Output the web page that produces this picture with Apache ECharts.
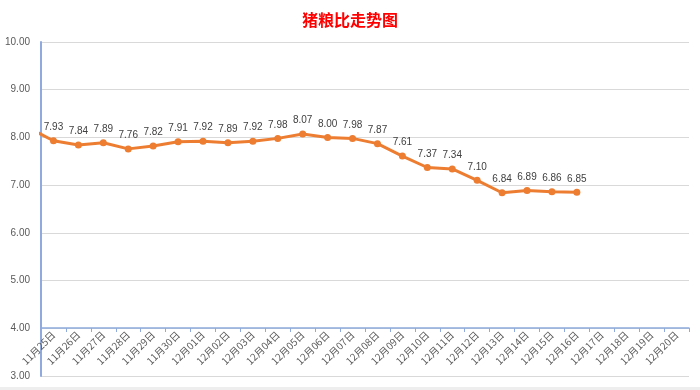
<!DOCTYPE html>
<html>
<head>
<meta charset="utf-8">
<script src="https://cdn.jsdelivr.net/npm/echarts@6/dist/echarts.min.js"></script>
<style>html,body{margin:0;padding:0;background:#fff}#c{width:700px;height:390px}</style>
</head>
<body>
<div id="c"></div>
<script>
const categories = ['11月25日','11月26日','11月27日','11月28日','11月29日','11月30日','12月01日','12月02日','12月03日','12月04日','12月05日','12月06日','12月07日','12月08日','12月09日','12月10日','12月11日','12月12日','12月13日','12月14日','12月15日','12月16日','12月17日','12月18日','12月19日','12月20日'];
const ratioValues = [7.93,7.84,7.89,7.76,7.82,7.91,7.92,7.89,7.92,7.98,8.07,8.00,7.98,7.87,7.61,7.37,7.34,7.10,6.84,6.89,6.86,6.85];
const priorValue = 8.20; // 11月24日 (clipped, off the axis)
const yTicks = [3,4,5,6,7,8,9,10];

const seriesData = [{value:[-0.5, priorValue], label:{show:false}, symbolSize:0}];
ratioValues.forEach((v,i)=>seriesData.push({value:[i+0.5, v]}));

const chart = echarts.init(document.getElementById('c'));
const blue = '#8faadc';
const font = '"Noto Sans CJK SC", "Noto Sans", sans-serif';
chart.setOption({
  animation:false,
  title:{text:'猪粮比走势图', left:'center', top:7, textStyle:{color:'#ff0000', fontSize:16, fontWeight:'bold', fontFamily:font}},
  grid:[
    {left:41, right:11, top:42, bottom:14},
    {left:41, right:11, top:42, bottom:62}
  ],
  xAxis:[
    {type:'value', gridIndex:0, min:0, max:categories.length, show:false},
    {type:'category', gridIndex:1, data:categories, boundaryGap:true,
     axisLine:{show:true, lineStyle:{color:blue, width:1.5}},
     axisTick:{show:true, length:4, lineStyle:{color:blue}},
     axisLabel:{rotate:45, interval:0, fontSize:10, color:'#595959', margin:5, fontFamily:font},
     splitLine:{show:false}}
  ],
  yAxis:[
    {type:'value', gridIndex:0, min:yTicks[0], max:yTicks[yTicks.length-1], interval:1,
     axisLine:{show:true, lineStyle:{color:blue, width:2}},
     axisTick:{show:false},
     axisLabel:{formatter:v=>v.toFixed(2), fontSize:10, color:'#595959', margin:11, fontFamily:'"Liberation Sans", sans-serif'},
     splitLine:{show:true, lineStyle:{color:'#d9d9d9', width:1}}},
    {type:'value', gridIndex:1, show:false, min:0, max:1}
  ],
  graphic:[{type:'rect', shape:{x:0, y:387, width:700, height:3}, style:{fill:'#eeeeee'}, silent:true}],
  series:[{
    type:'line', xAxisIndex:0, yAxisIndex:0, data:seriesData, clip:true,
    lineStyle:{color:'#ed7d31', width:3},
    itemStyle:{color:'#ed7d31'},
    symbol:'circle', symbolSize:7, showSymbol:true,
    label:{show:true, position:'top', distance:5, fontSize:10, color:'#404040', fontFamily:'"Liberation Sans", sans-serif',
      formatter:p=>p.value[1].toFixed(2)}
  }]
});
</script>
</body>
</html>
